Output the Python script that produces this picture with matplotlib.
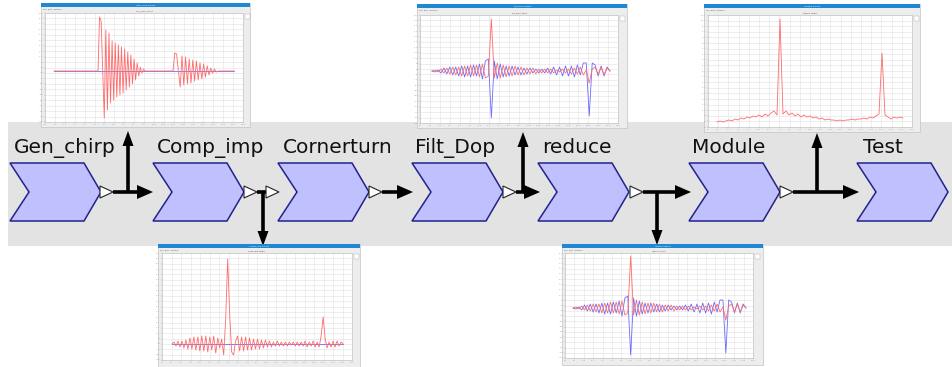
import numpy as np
import matplotlib.pyplot as plt
from matplotlib.patches import Polygon, Rectangle
from matplotlib.ticker import FormatStrFormatter

W, H = 952, 367

# pipeline stages
STAGES = ["Gen_chirp", "Comp_imp", "Cornerturn", "Filt_Dop", "reduce", "Module", "Test"]

# Gen_chirp output: two chirp echoes (amplitude samples)
chirp_echo1 = [0, 54, 50, 0, -47, 41, -39, 38, -32, 30, -29, 28, -26, 26, -24, 24,
               -22, 22, -19, 19, -16, 16, -13, 12, -9, 8, -5, 4, -2, 2, 0]
chirp_echo2 = [0, 18, 17, 0, -16, 15, -14, 14, -13, 12, -12, 11, -10, 10, -9, 8,
               -8, 7, -6, 5, -4, 3, -2, 2, -1, 0]

# Comp_imp output: pulse compressed signal (real part)
comp_re = [0, 2, -2, 3, -3, 3, -4, 4, -5, 6, -5, 7, -6, 7, -7, 8, -7, 8, -8, 7,
           -6, 8, -9, 6, -4, 5, -11, 25, 85, 30, -8, -11, 3, 8, -7, 7, -7, 7, -6, 6,
           -6, 5, -5, 5, -5, 4, -4, 4, -3, 3, -3, 2, -2, 3, -2, 2, -2, 2, -2, 2,
           -1, 2, -2, 2, -2, 2, -2, 3, -3, 2, -2, 3, -3, 2, -3, 8, 27, 6, -4, 2,
           -3, 3, -3, 3, -2, 2, 0]

# Filt_Dop / reduce output: real and imaginary parts
dop_re = [0, 1, -1, 2, -2, 3, -3, 4, -4, 4, -5, 5, -5, 6, -5, 6, -6, 7, -7, -5,
          52, -7, 8, -7, 6, -6, 5, -5, 5, -4, 4, -4, 3, -3, 3, -3, 2, -2, 2, -2,
          2, -2, 1, -1, 2, -2, 2, -3, 3, -3, 4, -4, 1, -12, 2, 4, -4, 4, -4, 3, 0]
dop_im = [0, -1, 1, -2, 3, -3, 4, -4, 4, -5, 5, -6, 5, -6, 6, -5, 7, -8, 10, 12,
          -47, 10, -8, 7, -6, 5, -5, 5, -4, 4, -4, 3, -3, 3, -2, 2, -2, 2, -2, 3,
          -3, 4, -4, 4, -5, 5, -5, 5, -6, 6, -4, 8, 8, -45, 8, 6, -5, 5, -5, 4, 0]

# Module output: modulus
mod_abs = [1, 2, 1, 2, 3, 2, 4, 3, 5, 4, 6, 5, 7, 6, 8, 6, 9, 7, 10, 12, 8, 104,
           9, 12, 8, 10, 7, 9, 6, 8, 6, 7, 5, 6, 4, 5, 3, 4, 3, 3, 2, 3, 2, 3, 3,
           4, 3, 4, 4, 5, 4, 6, 5, 7, 9, 70, 8, 6, 4, 6, 5, 6, 5]

RED = "#ff6b6b"
BLUE = "#6b6bff"

fig = plt.figure(figsize=(W / 100, H / 100), dpi=100)
ax = fig.add_axes([0, 0, 1, 1])
ax.set_xlim(0, W)
ax.set_ylim(H, 0)
ax.axis("off")

# grey canvas band
ax.add_patch(Rectangle((8, 122), W - 8, 124, fc="#e3e3e3", ec="none", zorder=0))

# blocks
BLOCK_X = [10, 153, 278, 412, 538, 689, 857]
LABEL_X = [14, 157, 283, 415, 542, 692, 863]
YT, YM, YB = 163, 192, 221
for name, x0, lx in zip(STAGES, BLOCK_X, LABEL_X):
    pts = [(x0, YT), (x0 + 74, YT), (x0 + 91, YM), (x0 + 74, YB), (x0, YB), (x0 + 19, YM)]
    ax.add_patch(Polygon(pts, closed=True, fc="#c0c0ff", ec="#22228f", lw=1.1, zorder=2))
    ax.text(lx, 153, name, fontsize=14.5, color="#111111", va="baseline", ha="left", zorder=3)


def port(x):
    ax.add_patch(Polygon([(x, 186), (x, 198), (x + 13, YM)], closed=True,
                         fc="white", ec="#222222", lw=0.8, zorder=4))


def hline(x0, x1, head=True):
    end = x1 - 15 if head else x1
    ax.plot([x0, end], [YM, YM], color="black", lw=2.6, solid_capstyle="butt", zorder=3)
    if head:
        ax.add_patch(Polygon([(x1 - 16, YM - 7), (x1, YM), (x1 - 16, YM + 7)],
                             closed=True, fc="black", ec="none", zorder=3))


def vline(x, y1):
    d = -1 if y1 < YM else 1
    ax.plot([x, x], [YM, y1 - d * 14], color="black", lw=2.6, solid_capstyle="butt", zorder=3)
    ax.add_patch(Polygon([(x - 5.5, y1 - d * 15), (x, y1), (x + 5.5, y1 - d * 15)],
                         closed=True, fc="black", ec="none", zorder=3))


# connections
hline(113, 153)
vline(128, 131)
hline(257, 266, head=False)
vline(263, 246)
hline(382, 413)
hline(516, 540)
vline(523, 132)
hline(643, 691)
vline(657, 245)
hline(793, 859)
vline(817, 133)
for px in [100, 244, 266, 369, 503, 630, 780]:
    port(px)


def thumb(win, plot, xlim, ylim, title):
    x0, y0, x1, y1 = win
    ax.add_patch(Rectangle((x0, y0), x1 - x0, y1 - y0, fc="#ededed", ec="#c4c4c4", lw=0.5, zorder=5))
    ax.add_patch(Rectangle((x0, y0), x1 - x0, 3.8, fc="#1f88d2", ec="none", zorder=6))
    ax.text((x0 + x1) / 2, y0 + 1.9, title, fontsize=1.6, color="white",
            ha="center", va="center", zorder=7)
    ax.text(x0 + 2, y0 + 6.8, "File  Edit  Options", fontsize=1.5, color="#555555",
            va="center", zorder=7)
    px0, py0, px1, py1 = plot
    ax.add_patch(Rectangle((px1 + 1.5, py0 + 1), 5, 5, fc="white", ec="#aaaaaa", lw=0.3, zorder=6))
    a = fig.add_axes([px0 / W, 1 - py1 / H, (px1 - px0) / W, (py1 - py0) / H])
    a.set_facecolor("white")
    a.set_xlim(xlim)
    a.set_ylim(ylim)
    a.set_xticks(np.linspace(xlim[0], xlim[1], 21))
    a.set_yticks(np.linspace(ylim[0], ylim[1], 21))
    a.xaxis.set_major_formatter(FormatStrFormatter("%.1f"))
    a.yaxis.set_major_formatter(FormatStrFormatter("%.1f"))
    a.grid(True, color="#e2e2e2", lw=0.4)
    a.set_axisbelow(True)
    a.tick_params(labelsize=1.3, length=0.8, width=0.3, pad=0.5, colors="#999999")
    for s in a.spines.values():
        s.set_color("#bbbbbb")
        s.set_linewidth(0.4)
    a.set_title(title, fontsize=1.4, pad=0.8, color="#444444")
    return a


# Gen_chirp output
a1 = thumb((41, 3, 250, 127), (45, 13, 243, 122), (0, 198), (-51, 58), "Gen_chirp output")
t1 = np.concatenate([[9], np.linspace(53, 100, len(chirp_echo1)),
                     np.linspace(128, 173, len(chirp_echo2)), [189]])
v1 = np.concatenate([[0], chirp_echo1, chirp_echo2, [0]])
a1.plot([9, 189], [0, 0], color=BLUE, lw=0.6)
a1.plot(t1, v1, color=RED, lw=0.6)

# Comp_imp output
a2 = thumb((158, 244, 360, 367), (162, 253, 352, 360), (0, 190), (-16, 91), "Comp_imp output")
t2 = np.linspace(10, 181, len(comp_re))
a2.plot([10, 181], [0, 0], color=BLUE, lw=0.6)
a2.plot(t2, comp_re, color=RED, lw=0.6)

# Filt_Dop output
a3 = thumb((417, 4, 627, 128), (420, 15, 618, 123), (0, 198), (-52, 56), "Filt_Dop output")
t3 = np.linspace(12, 190, len(dop_re))
a3.plot(t3, dop_im, color=BLUE, lw=0.6)
a3.plot(t3, dop_re, color=RED, lw=0.6)

# Module output
a4 = thumb((704, 4, 920, 132), (708, 15, 912, 127), (0, 204), (-4, 108), "Module output")
t4 = np.linspace(9, 195, len(mod_abs))
a4.plot(t4, mod_abs, color=RED, lw=0.6)

# reduce output
a5 = thumb((562, 244, 763, 365), (565, 253, 753, 358), (0, 188), (-50, 55), "reduce output")
t5 = np.linspace(8, 181, len(dop_re))
a5.plot(t5, dop_im, color=BLUE, lw=0.6)
a5.plot(t5, dop_re, color=RED, lw=0.6)

fig.savefig("out.png", dpi=100)
